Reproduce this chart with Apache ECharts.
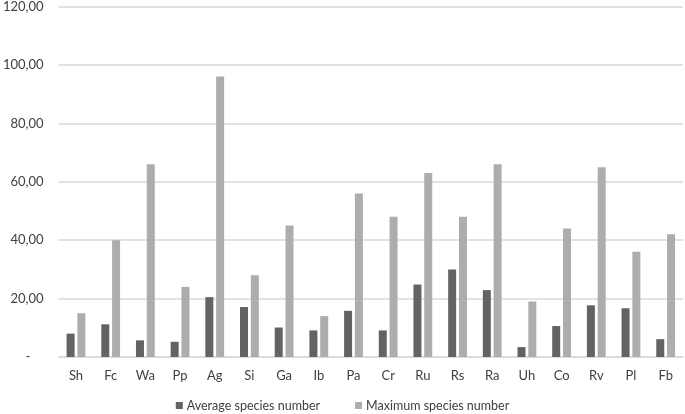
<!DOCTYPE html>
<html>
<head>
<meta charset="utf-8">
<script src="https://cdn.jsdelivr.net/npm/echarts@6/dist/echarts.min.js"></script>
<style>html,body{margin:0;padding:0;background:#fff}#c{width:685px;height:414px}</style>
</head>
<body>
<div id="c"></div>
<script>
const categories = ['Sh','Fc','Wa','Pp','Ag','Si','Ga','Ib','Pa','Cr','Ru','Rs','Ra','Uh','Co','Rv','Pl','Fb'];
const averageSpecies = [8.0, 11.2, 5.7, 5.2, 20.5, 17.1, 10.1, 9.1, 15.8, 9.1, 24.8, 30.0, 22.9, 3.4, 10.6, 17.7, 16.7, 6.1];
const maximumSpecies = [15, 40, 66, 24, 96, 28, 45, 14, 56, 48, 63, 48, 66, 19, 44, 65, 36, 42];
const seriesNames = ['Average species number', 'Maximum species number'];

const font = 'Lato, "Open Sans", sans-serif';
const chart = echarts.init(document.getElementById('c'));
chart.setOption({
  animation: false,
  grid: { left: 53, right: 2, top: 5, bottom: 57, containLabel: false },
  legend: {
    data: seriesNames,
    top: 394,
    left: 'center',
    icon: 'rect',
    itemWidth: 7,
    itemHeight: 7,
    itemGap: 35,
    textStyle: { fontFamily: font, fontSize: 12.5, color: '#404040', padding: [0,0,0,-1] }
  },
  xAxis: {
    type: 'category',
    data: categories,
    axisLine: { lineStyle: { color: '#d9d9d9', width: 1.5 } },
    axisTick: { show: false },
    axisLabel: { fontFamily: font, fontSize: 13, color: '#404040', margin: 12 }
  },
  yAxis: {
    type: 'value',
    min: 0, max: 120, interval: 20,
    axisLine: { show: false },
    axisTick: { show: false },
    splitLine: { lineStyle: { color: '#d9d9d9', width: 1.5 } },
    axisLabel: {
      fontFamily: font, fontSize: 13, color: '#404040', margin: 15,
      formatter: v => v === 0 ? '-    ' : v.toFixed(2).replace('.', ',')
    }
  },
  series: [
    {
      name: seriesNames[0], type: 'bar', data: averageSpecies,
      barWidth: 8, barGap: '35%',
      itemStyle: { color: '#636363' }
    },
    {
      name: seriesNames[1], type: 'bar', data: maximumSpecies,
      barWidth: 8,
      itemStyle: { color: '#adadad' }
    }
  ]
});
</script>
</body>
</html>
